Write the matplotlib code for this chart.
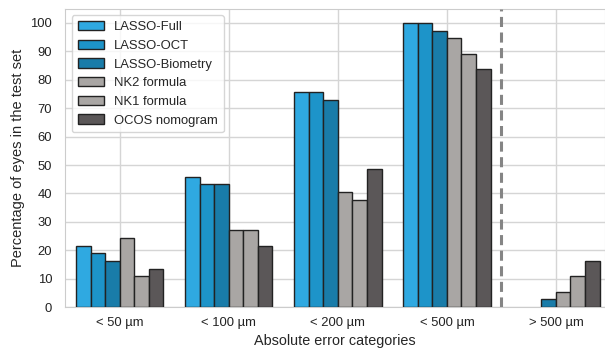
import matplotlib
matplotlib.use("Agg")
import matplotlib.pyplot as plt
import numpy as np
import seaborn as sns

# categories and series
categories = ["< 50 µm", "< 100 µm", "< 200 µm", "< 500 µm", "> 500 µm"]
methods = ["LASSO-Full", "LASSO-OCT", "LASSO-Biometry",
           "NK2 formula", "NK1 formula", "OCOS nomogram"]
lasso_full = [21.6, 45.9, 75.7, 100.0, 0.0]
lasso_oct = [18.9, 43.2, 75.7, 100.0, 0.0]
lasso_bio = [16.2, 43.2, 73.0, 97.3, 2.7]
nk2 = [24.3, 27.0, 40.5, 94.6, 5.4]
nk1 = [10.8, 27.0, 37.8, 89.2, 10.8]
ocos = [13.5, 21.6, 48.6, 83.8, 16.2]
series = [lasso_full, lasso_oct, lasso_bio, nk2, nk1, ocos]
colors = ["#2fa9e1", "#1d94c9", "#197ca9", "#a9a6a4", "#a9a6a4", "#5b5758"]

sns.set_style("whitegrid")
plt.rcParams['font.family'] = ['Liberation Sans', 'DejaVu Sans']

fig, ax = plt.subplots(figsize=(6.05, 3.49), dpi=100)
fig.subplots_adjust(left=0.108, right=1.0, top=0.975, bottom=0.12)

x = np.arange(len(categories))
w = 0.8 / len(series)
for i, (vals, name, col) in enumerate(zip(series, methods, colors)):
    vals = np.array(vals)
    lw = np.where(vals > 0, 1.0, 0.0)
    ax.bar(x - 0.4 + w * (i + 0.5), vals, width=w, color=col,
           edgecolor="#222222", linewidth=lw, label=name, zorder=3)

ax.axvline(3.5, color="#858585", linestyle=(0, (3.3, 1.8)), linewidth=2.2, zorder=4)

ax.set_xlim(-0.5, 4.45)
ax.set_ylim(0, 105)
ax.set_yticks(np.arange(0, 101, 10))
ax.set_xticks(x)
ax.set_xticklabels(categories)
ax.tick_params(labelsize=9.4, colors="#222222")
ax.tick_params(axis="y", pad=6)
ax.set_xlabel("Absolute error categories", fontsize=10.4, labelpad=4)
ax.set_ylabel("Percentage of eyes in the test set", fontsize=10.5, labelpad=4)
for s in ax.spines.values():
    s.set_color("#cccccc")
ax.grid(color="#d5d5d5", linewidth=1.0)

ax.legend(loc="upper left", fontsize=9.4, frameon=True, borderpad=0.45,
          handlelength=2.0, handletextpad=0.8, labelspacing=0.5)

plt.savefig("out.png")
